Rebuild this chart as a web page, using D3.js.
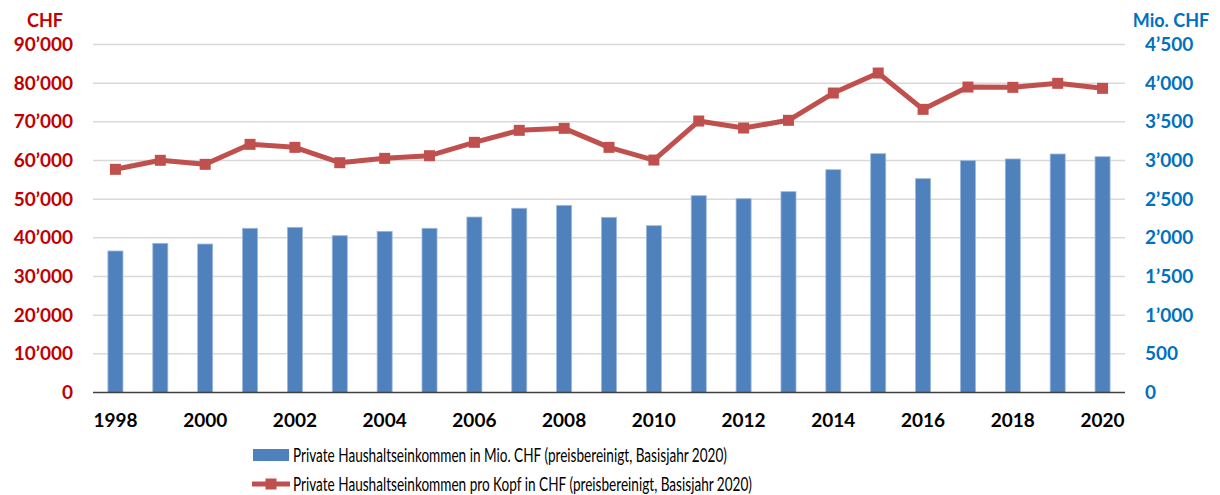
<!DOCTYPE html>
<html>
<head>
<meta charset="utf-8">
<script src="https://cdn.jsdelivr.net/npm/d3@7"></script>
<style>
  html, body { margin: 0; padding: 0; background: #fff; }
  svg { display: block; font-family: Lato, "Open Sans", sans-serif; }
</style>
</head>
<body>
<div id="chart"></div>
<script>
// Data
const years = [1998, 1999, 2000, 2001, 2002, 2003, 2004, 2005, 2006, 2007, 2008,
               2009, 2010, 2011, 2012, 2013, 2014, 2015, 2016, 2017, 2018, 2019, 2020];
// Private Haushaltseinkommen in Mio. CHF (right axis)
const totalIncome = [1830, 1929, 1920, 2123, 2136, 2028, 2084, 2123, 2269, 2382, 2420,
                     2265, 2157, 2545, 2506, 2597, 2881, 3088, 2765, 2998, 3020, 3084, 3049];
// Private Haushaltseinkommen pro Kopf in CHF (left axis)
const perCapita = [57720, 60050, 59010, 64180, 63400, 59430, 60560, 61240, 64700, 67800, 68320,
                   63400, 60120, 70210, 68400, 70390, 77450, 82620, 73230, 79000, 78920, 79960, 78660];
const leftTicks = [0, 10000, 20000, 30000, 40000, 50000, 60000, 70000, 80000, 90000];
const rightTicks = [0, 500, 1000, 1500, 2000, 2500, 3000, 3500, 4000, 4500];
const xLabelYears = [1998, 2000, 2002, 2004, 2006, 2008, 2010, 2012, 2014, 2016, 2018, 2020];
const legendLabels = [
  "Private Haushaltseinkommen in Mio. CHF (preisbereinigt, Basisjahr 2020)",
  "Private Haushaltseinkommen pro Kopf in CHF (preisbereinigt, Basisjahr 2020)"
];

const width = 1220, height = 495;
const plot = { left: 93, right: 1125, top: 44.5, bottom: 392.5 };

const red = "#C0504D", blue = "#4F81BD";
const darkRed = "#C00000", axisBlue = "#0070C0";

const fmt = v => d3.format(",")(v).replace(/,/g, "\u2019");

const svg = d3.select("#chart").append("svg")
    .attr("width", width)
    .attr("height", height);

// Scales
const x = d3.scaleBand()
    .domain(years)
    .range([plot.left, plot.right])
    .paddingInner(0.665)
    .paddingOuter(0.3325);

const yLeft = d3.scaleLinear().domain([0, 90000]).range([plot.bottom, plot.top]);
const yRight = d3.scaleLinear().domain([0, 4500]).range([plot.bottom, plot.top]);

// Gridlines
svg.append("g")
  .selectAll("line")
  .data(leftTicks.filter(d => d > 0))
  .join("line")
    .attr("x1", plot.left)
    .attr("x2", plot.right)
    .attr("y1", d => yLeft(d))
    .attr("y2", d => yLeft(d))
    .attr("stroke", "#D9D9D9")
    .attr("stroke-width", 1.5);

// Bars
svg.append("g")
  .selectAll("rect")
  .data(years)
  .join("rect")
    .attr("x", (d, i) => x(d))
    .attr("y", (d, i) => yRight(totalIncome[i]))
    .attr("width", x.bandwidth())
    .attr("height", (d, i) => plot.bottom - yRight(totalIncome[i]))
    .attr("fill", blue)
    .attr("stroke", "#9DB9DD")
    .attr("stroke-width", 0.8);

// Baseline
svg.append("line")
    .attr("x1", plot.left)
    .attr("x2", plot.right)
    .attr("y1", plot.bottom)
    .attr("y2", plot.bottom)
    .attr("stroke", "#404040")
    .attr("stroke-width", 1.5);

// Line series
const cx = d => x(d) + x.bandwidth() / 2;
const line = d3.line()
    .x((d, i) => cx(years[i]))
    .y(d => yLeft(d));

svg.append("path")
    .datum(perCapita)
    .attr("d", line)
    .attr("fill", "none")
    .attr("stroke", red)
    .attr("stroke-width", 5)
    .attr("stroke-linejoin", "round");

const markerSize = 11;
svg.append("g")
  .selectAll("rect")
  .data(perCapita)
  .join("rect")
    .attr("x", (d, i) => cx(years[i]) - markerSize / 2)
    .attr("y", d => yLeft(d) - markerSize / 2)
    .attr("width", markerSize)
    .attr("height", markerSize)
    .attr("fill", red);

// Left axis labels
svg.append("g")
  .selectAll("text")
  .data(leftTicks)
  .join("text")
    .attr("x", 73)
    .attr("y", d => yLeft(d))
    .attr("dy", "0.35em")
    .attr("text-anchor", "end")
    .attr("fill", darkRed)
    .attr("font-weight", "bold")
    .attr("font-size", 19)
    .text(fmt);

svg.append("text")
    .attr("x", 45)
    .attr("y", 21)
    .attr("dy", "0.35em")
    .attr("text-anchor", "middle")
    .attr("fill", darkRed)
    .attr("font-weight", "bold")
    .attr("font-size", 18)
    .text("CHF");

// Right axis labels
svg.append("g")
  .selectAll("text")
  .data(rightTicks)
  .join("text")
    .attr("x", 1145)
    .attr("y", d => yRight(d))
    .attr("dy", "0.35em")
    .attr("text-anchor", "start")
    .attr("fill", axisBlue)
    .attr("font-weight", "bold")
    .attr("font-size", 19)
    .text(fmt);

svg.append("text")
    .attr("x", 1171)
    .attr("y", 21)
    .attr("dy", "0.35em")
    .attr("text-anchor", "middle")
    .attr("fill", axisBlue)
    .attr("font-weight", "bold")
    .attr("font-size", 18)
    .text("Mio. CHF");

// X axis labels
svg.append("g")
  .selectAll("text")
  .data(xLabelYears)
  .join("text")
    .attr("x", d => cx(d))
    .attr("y", 420)
    .attr("dy", "0.35em")
    .attr("text-anchor", "middle")
    .attr("fill", "#000")
    .attr("font-weight", "bold")
    .attr("font-size", 19)
    .text(d => d);

// Legend
const legend = svg.append("g");
legend.append("rect")
    .attr("x", 253).attr("y", 449)
    .attr("width", 36).attr("height", 12)
    .attr("fill", blue);
legend.append("text")
    .attr("x", 293).attr("y", 455)
    .attr("dy", "0.35em")
    .attr("font-size", 19.5)
    .attr("fill", "#000")
    .attr("textLength", 434)
    .attr("lengthAdjust", "spacingAndGlyphs")
    .text(legendLabels[0]);

legend.append("line")
    .attr("x1", 252).attr("x2", 290)
    .attr("y1", 484).attr("y2", 484)
    .attr("stroke", red)
    .attr("stroke-width", 5);
legend.append("rect")
    .attr("x", 271 - markerSize / 2).attr("y", 484 - markerSize / 2)
    .attr("width", markerSize).attr("height", markerSize)
    .attr("fill", red);
legend.append("text")
    .attr("x", 293).attr("y", 484)
    .attr("dy", "0.35em")
    .attr("font-size", 19.5)
    .attr("fill", "#000")
    .attr("textLength", 459)
    .attr("lengthAdjust", "spacingAndGlyphs")
    .text(legendLabels[1]);
</script>
</body>
</html>
